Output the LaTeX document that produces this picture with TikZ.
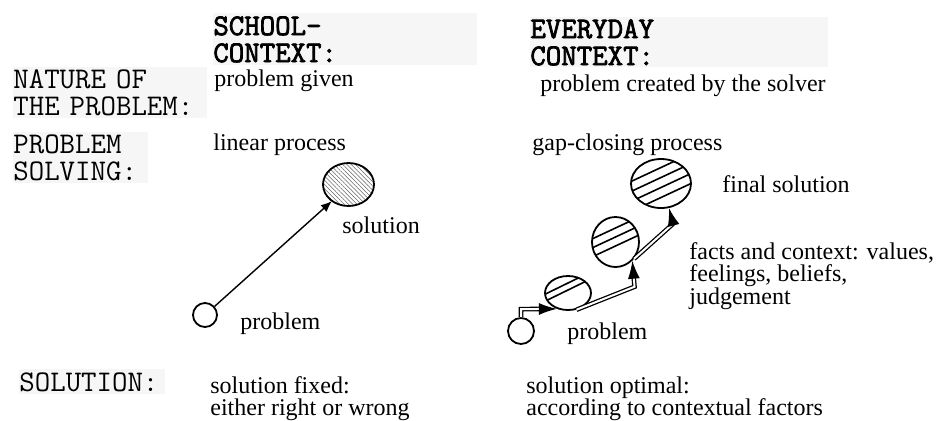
\documentclass[tikz,border=0pt]{standalone}
\usepackage{fontspec}
\setmainfont{Liberation Serif}
\newfontfamily\capsbold[FakeBold=2.5]{Latin Modern Mono}
\usetikzlibrary{arrows.meta,shapes.geometric,patterns.meta}
\definecolor{boxgray}{HTML}{F6F6F6}
\tikzset{
  hdr/.style={fill=boxgray, font=\ttfamily\fontsize{15}{13.5}\selectfont, align=left,
    anchor=north west, inner sep=0pt},
  hdrbold/.style={hdr, font=\capsbold\fontsize{15}{13.5}\selectfont},
  txt/.style={font=\fontsize{12}{11.3}\selectfont, align=left, anchor=base west, inner sep=0pt},
  txtblock/.style={txt, anchor=north west},
  ring/.style={draw, line width=0.9pt, ellipse, inner sep=0pt},
  fine/.style={pattern={Lines[angle=-45,distance=1.5pt,line width=0.3pt]}, pattern color=black!60},
  coarse/.style 2 args={path picture={
    \begin{scope}[shift={(path picture bounding box.center)}]
      \foreach \k in {#2} \draw[line width=0.8pt] (-45,{\k+#1}) -- (45,{\k-#1});
    \end{scope}}},
  single/.style={line width=0.7pt, -{Latex[length=5.5pt,width=4.5pt]}},
  dbl/.style={draw, double, double distance=1pt, line width=0.65pt,
    -{Latex[length=9pt,width=6pt]}}
}

\begin{document}
\begin{tikzpicture}[x=0.5pt, y=-0.5pt]
\useasboundingbox (0,0) rectangle (939,420);

% row and column headings
\node[hdrbold, text width=132pt, minimum height=26pt] (hschool) at (213,13) {SCHOOL-\\CONTEXT:};
\node[hdrbold, text width=149pt, minimum height=25pt] (hevery) at (530,17) {EVERYDAY\\CONTEXT:};
\node[hdr, text width=97pt, minimum height=25.5pt] (hnature) at (13,67) {NATURE OF\\THE PROBLEM:};
\node[hdr, text width=67.5pt, minimum height=25.5pt] (hsolving) at (13,132) {PROBLEM\\SOLVING:};
\node[hdr, text width=73pt, minimum height=12.5pt] (hsolution) at (19,369) {SOLUTION:};

% nature of the problem
\node[txt] (natS) at (214,86) {problem given};
\node[txt] (natE) at (540,91) {problem created by the solver};

% school: linear process
\node[txt] (linS) at (213,150) {linear process};
\node[ring, minimum width=12pt, minimum height=12pt] (pS) at (205,315) {};
\node[ring, fine, minimum width=25.5pt, minimum height=21.5pt] (sS) at (348.5,184.5) {};
\draw[single] (pS) -- (sS.225);
\node[txt] (lsolS) at (342,233) {solution};
\node[txt] (lprobS) at (240,329) {problem};

% everyday: gap-closing process
\node[txt] (gapE) at (532,150) {gap-closing process};
\node[ring, minimum width=13pt, minimum height=13pt] (q0) at (521,331) {};
\node[ring, coarse={22}{-10,-3}, minimum width=23pt, minimum height=17pt] (q1) at (568,293) {};
\node[ring, coarse={21}{-14,-5,4}, minimum width=23.5pt, minimum height=25pt] (q2) at (615.5,242) {};
\node[ring, coarse={21}{-16,-6,4,14}, minimum width=30pt, minimum height=24.5pt] (q3) at (661,183.5) {};
\draw[dbl] (q0.north) -- ++(0,-8) -- (q1.235);
\draw[dbl] (q1.297) -- ++(58,-23) -- (q2.312);
\draw[dbl] (q2.318) -- ++(39,-35) -- (q3.288);
\node[txt] (lfinal) at (722,192) {final solution};
\node[txtblock] (lfacts) at (689,242) {facts and context: values,\\feelings, beliefs,\\judgement};
\node[txt] (lprobE) at (567,339) {problem};

% solution row
\node[txtblock] (solS) at (210,376) {solution fixed:\\either right or wrong};
\node[txtblock] (solE) at (526,376) {solution optimal:\\according to contextual factors};
\end{tikzpicture}
\end{document}
